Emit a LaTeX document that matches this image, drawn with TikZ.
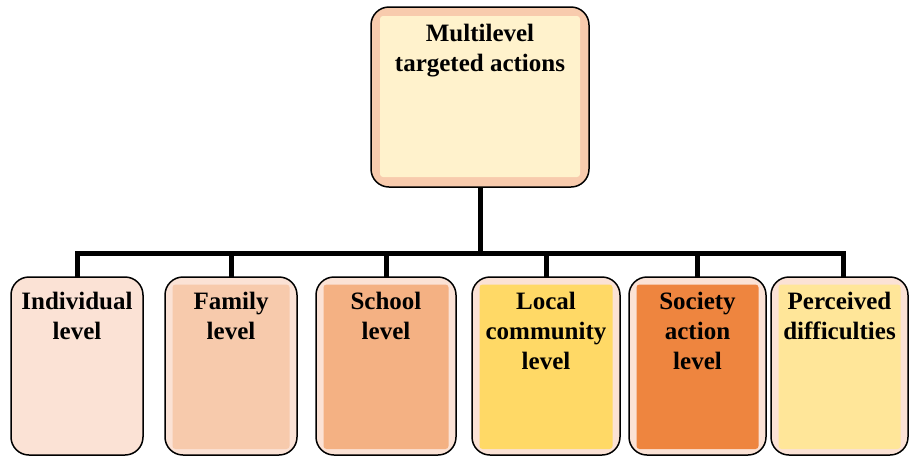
\documentclass[tikz,border=0pt]{standalone}
\usepackage{fontspec}
\setmainfont{Liberation Serif}
\definecolor{bandA}{HTML}{FBE2D5}
\definecolor{bandT}{HTML}{F8CBAD}
\definecolor{inT}{HTML}{FFF2CC}
\definecolor{inA}{HTML}{FBE2D5}
\definecolor{inB}{HTML}{F7CAAC}
\definecolor{inC}{HTML}{F4B183}
\definecolor{inD}{HTML}{FFD966}
\definecolor{inE}{HTML}{EE853F}
\definecolor{inF}{HTML}{FFE699}
\tikzset{
  obox/.style n args={4}{draw=black, line width=1.5pt, rounded corners=18pt,
    fill=#1, outer sep=0pt, inner sep=0pt,
    path picture={\fill[#2, rounded corners=3pt]
      ([shift={(#3pt,-#3pt)}]path picture bounding box.north west) rectangle
      ([shift={(-#3pt,#4pt)}]path picture bounding box.south east);}},
  lbl/.style={font=\fontsize{25}{30}\selectfont\bfseries, align=center,
    inner sep=0pt, anchor=north, text=black},
  conn/.style={draw=black, line width=5pt, line join=miter}
}
\begin{document}
\begin{tikzpicture}[x=1pt,y=-1pt]
\useasboundingbox (0,0) rectangle (909,456);
% top box
\node[obox={bandT}{inT}{9}{10}, minimum width=218pt, minimum height=180pt] (top) at (480,97) {};
% bottom boxes
\node[obox={bandA}{inA}{7.5}{6}, minimum width=132pt, minimum height=178pt] (b1) at (77,366) {};
\node[obox={bandA}{inB}{7.5}{6}, minimum width=132pt, minimum height=178pt] (b2) at (231,366) {};
\node[obox={bandA}{inC}{7.5}{6}, minimum width=140pt, minimum height=178pt] (b3) at (386,366) {};
\node[obox={bandA}{inD}{7.5}{6}, minimum width=148pt, minimum height=178pt] (b4) at (546,366) {};
\node[obox={bandA}{inE}{7.5}{6}, minimum width=137pt, minimum height=178pt] (b5) at (697.5,366) {};
\node[obox={bandA}{inF}{7.5}{6}, minimum width=137pt, minimum height=178pt] (b6) at (839.5,366) {};
% labels
\node[lbl] (t0) at ([yshift=-17pt]top.north) {Multilevel\\targeted actions};
\node[lbl] (t1) at ([yshift=-15pt]b1.north) {Individual\\level};
\node[lbl] (t2) at ([yshift=-15pt]b2.north) {Family\\level};
\node[lbl] (t3) at ([yshift=-15pt]b3.north) {School\\level};
\node[lbl] (t4) at ([yshift=-15pt]b4.north) {Local\\community\\level};
\node[lbl] (t5) at ([yshift=-15pt]b5.north) {Society\\action\\level};
\node[lbl] (t6) at ([yshift=-15pt]b6.north) {Perceived\\difficulties};
% connectors
\coordinate (hub) at (480,253);
\draw[conn] (top.south) -- (hub);
\draw[conn] (hub) -| (b1.north);
\draw[conn] (hub) -| (b2.north);
\draw[conn] (hub) -| (b3.north);
\draw[conn] (hub) -| (b4.north);
\draw[conn] (hub) -| (b5.north);
\draw[conn] (hub) -| ([xshift=3.5pt]b6.north);
\end{tikzpicture}
\end{document}
